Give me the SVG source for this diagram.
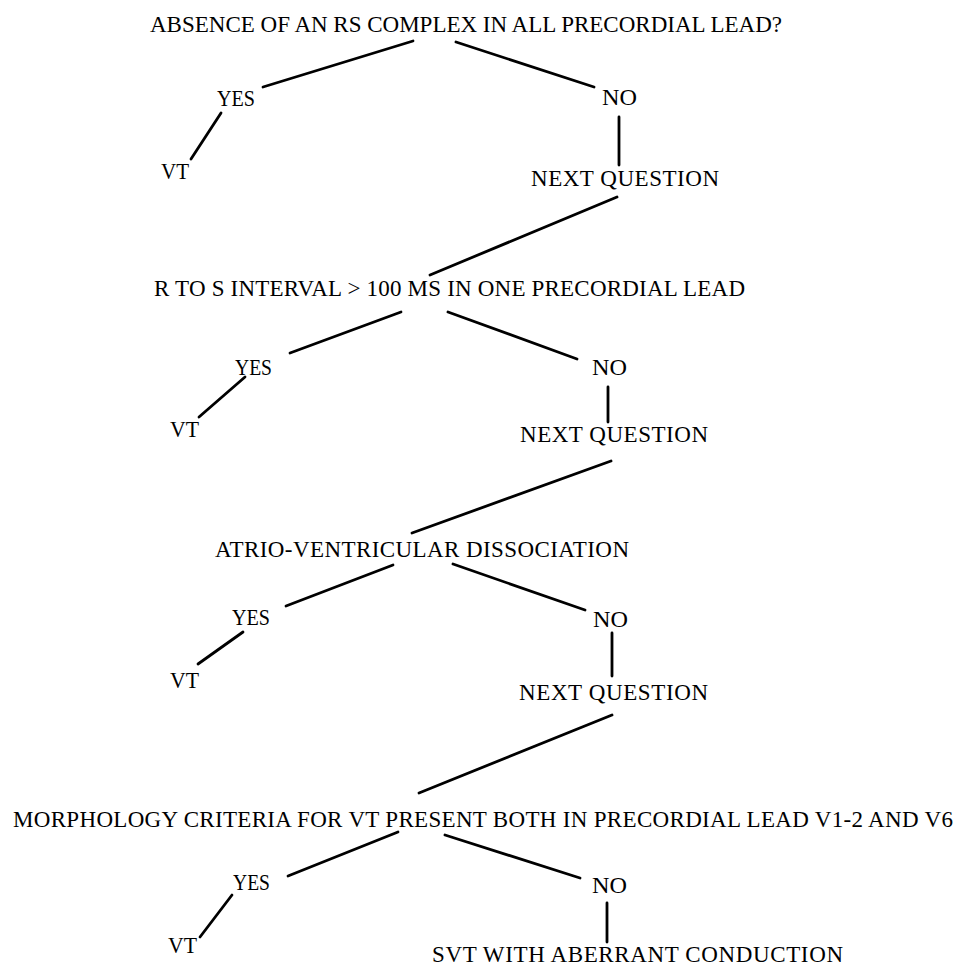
<svg xmlns="http://www.w3.org/2000/svg" width="962" height="967" viewBox="0 0 962 967">
<style>
text{font-family:"Liberation Serif","Times New Roman",serif;font-size:23px;fill:#000}
text.s{lengthAdjust:spacingAndGlyphs}
.c line{stroke:#000;stroke-width:2.8;stroke-linecap:round}
</style>
<rect width="962" height="967" fill="#fff"/>
<g class="c" id="connectors">
<line x1="413" y1="41" x2="263" y2="87"/>
<line x1="456" y1="42" x2="594" y2="87"/>
<line x1="221" y1="113" x2="191" y2="159"/>
<line x1="619" y1="117" x2="619" y2="165"/>
<line x1="617" y1="197" x2="430" y2="275"/>
<line x1="401" y1="312" x2="290" y2="353"/>
<line x1="448" y1="312" x2="577" y2="359"/>
<line x1="245" y1="377" x2="199" y2="417"/>
<line x1="608" y1="387" x2="608" y2="422"/>
<line x1="611" y1="461" x2="412" y2="533"/>
<line x1="393" y1="565" x2="286" y2="606"/>
<line x1="453" y1="564" x2="585" y2="610"/>
<line x1="243" y1="632" x2="198" y2="664"/>
<line x1="612" y1="633" x2="612" y2="676"/>
<line x1="612" y1="715" x2="419" y2="793"/>
<line x1="398" y1="832" x2="288" y2="876"/>
<line x1="445" y1="835" x2="580" y2="878"/>
<line x1="232" y1="895" x2="200" y2="937"/>
<line x1="607" y1="903" x2="607" y2="942"/>
</g>
<g id="q1"><text x="150" y="32" textLength="632">ABSENCE OF AN RS COMPLEX IN ALL PRECORDIAL LEAD?</text></g>
<g id="yes1"><text x="217" y="106" textLength="38" lengthAdjust="spacingAndGlyphs">YES</text></g>
<g id="no1"><text x="602" y="105" textLength="35" lengthAdjust="spacingAndGlyphs">NO</text></g>
<g id="vt1"><text x="161" y="179" textLength="28" lengthAdjust="spacingAndGlyphs">VT</text></g>
<g id="next1"><text x="531" y="186" textLength="188">NEXT QUESTION</text></g>
<g id="q2"><text x="154" y="296" textLength="591">R TO S INTERVAL &gt; 100 MS IN ONE PRECORDIAL LEAD</text></g>
<g id="yes2"><text x="235" y="375" textLength="37" lengthAdjust="spacingAndGlyphs">YES</text></g>
<g id="no2"><text x="592" y="375" textLength="35" lengthAdjust="spacingAndGlyphs">NO</text></g>
<g id="vt2"><text x="170" y="437" textLength="29" lengthAdjust="spacingAndGlyphs">VT</text></g>
<g id="next2"><text x="520" y="442" textLength="188">NEXT QUESTION</text></g>
<g id="q3"><text x="215" y="557" textLength="414">ATRIO-VENTRICULAR DISSOCIATION</text></g>
<g id="yes3"><text x="232" y="625" textLength="38" lengthAdjust="spacingAndGlyphs">YES</text></g>
<g id="no3"><text x="593" y="627" textLength="35" lengthAdjust="spacingAndGlyphs">NO</text></g>
<g id="vt3"><text x="170" y="688" textLength="29" lengthAdjust="spacingAndGlyphs">VT</text></g>
<g id="next3"><text x="519" y="700" textLength="189">NEXT QUESTION</text></g>
<g id="q4"><text x="13" y="827" textLength="940">MORPHOLOGY CRITERIA FOR VT PRESENT BOTH IN PRECORDIAL LEAD V1-2 AND V6</text></g>
<g id="yes4"><text x="233" y="890" textLength="37" lengthAdjust="spacingAndGlyphs">YES</text></g>
<g id="no4"><text x="592" y="893" textLength="35" lengthAdjust="spacingAndGlyphs">NO</text></g>
<g id="vt4"><text x="168" y="953" textLength="29" lengthAdjust="spacingAndGlyphs">VT</text></g>
<g id="svt"><text x="432" y="962" textLength="411">SVT WITH ABERRANT CONDUCTION</text></g>
</svg>
